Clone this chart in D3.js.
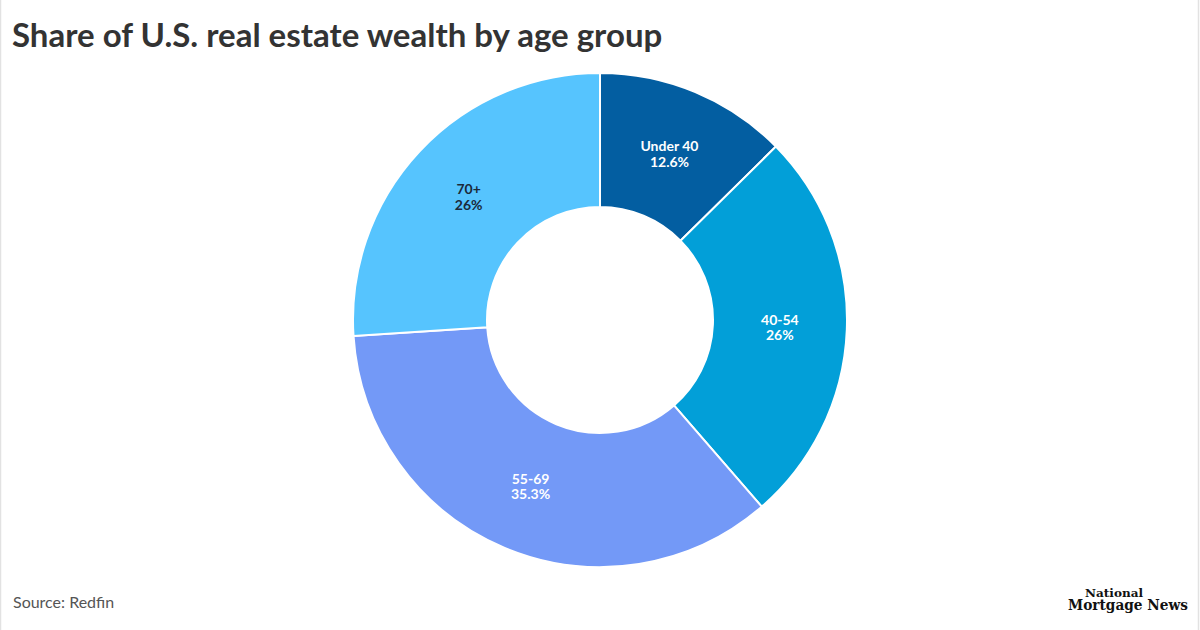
<!DOCTYPE html>
<html>
<head>
<meta charset="utf-8">
<script src="https://cdn.jsdelivr.net/npm/d3@7"></script>
<style>
  html, body { margin: 0; padding: 0; background: #fff; }
  svg { display: block; }
</style>
</head>
<body>
<svg id="chart" width="1200" height="630"></svg>
<script>
const categories = ["Under 40", "40-54", "55-69", "70+"];
const values = [12.6, 26, 35.3, 26];
const valueLabels = ["12.6%", "26%", "35.3%", "26%"];
const colors = ["#035ea1", "#029fd8", "#7399f7", "#56c4fe"];
const labelColors = ["#ffffff", "#ffffff", "#ffffff", "#1b2a3a"];

const svg = d3.select("#chart");
const W = 1200, H = 630;

svg.append("rect").attr("x", 0).attr("y", 0).attr("width", W).attr("height", H).attr("fill", "#fff");
svg.append("line").attr("x1", 0.5).attr("x2", 0.5).attr("y1", 0).attr("y2", H).attr("stroke", "#e2e2e2").attr("stroke-width", 1.5);
svg.append("line").attr("x1", W - 1.5).attr("x2", W - 1.5).attr("y1", 0).attr("y2", H).attr("stroke", "#e2e2e2").attr("stroke-width", 1.5);

svg.append("text")
  .attr("x", 12).attr("y", 47)
  .attr("font-family", "Lato, sans-serif").attr("font-weight", 700)
  .attr("font-size", 33).attr("fill", "#333333")
  .text("Share of U.S. real estate wealth by age group");

const cx = 600, cy = 320, rOuter = 247, rInner = 113;
const data = categories.map((c, i) => ({ cat: c, value: values[i], label: valueLabels[i], i }));

const pie = d3.pie().value(d => d.value).sort(null);
const arc = d3.arc().innerRadius(rInner).outerRadius(rOuter);
const g = svg.append("g").attr("transform", `translate(${cx},${cy})`);
const arcs = pie(data);

g.selectAll("path").data(arcs).join("path")
  .attr("d", arc)
  .attr("fill", d => colors[d.data.i])
  .attr("stroke", "#ffffff").attr("stroke-width", 2);

const lab = g.selectAll("text.lbl").data(arcs).join("text")
  .attr("class", "lbl")
  .attr("transform", d => `translate(${arc.centroid(d)})`)
  .attr("text-anchor", "middle")
  .attr("font-family", "Lato, sans-serif").attr("font-weight", 700)
  .attr("font-size", 14)
  .attr("fill", d => labelColors[d.data.i]);
lab.append("tspan").attr("x", 0).attr("y", -2.5).text(d => d.data.cat);
lab.append("tspan").attr("x", 0).attr("y", 13).text(d => d.data.label);

svg.append("text")
  .attr("x", 13).attr("y", 608)
  .attr("font-family", "Lato, sans-serif")
  .attr("font-size", 16).attr("fill", "#555555")
  .text("Source: Redfin");

const logo = svg.append("text")
  .attr("font-family", "'DejaVu Serif', 'Liberation Serif', serif").attr("font-weight", 700)
  .attr("fill", "#111");
logo.append("tspan")
  .attr("x", 1085).attr("y", 597)
  .attr("font-size", 11.5)
  .attr("textLength", 58).attr("lengthAdjust", "spacingAndGlyphs")
  .text("National");
logo.append("tspan")
  .attr("x", 1068).attr("y", 610)
  .attr("font-size", 14.5)
  .attr("textLength", 120).attr("lengthAdjust", "spacingAndGlyphs")
  .text("Mortgage News");
</script>
</body>
</html>
